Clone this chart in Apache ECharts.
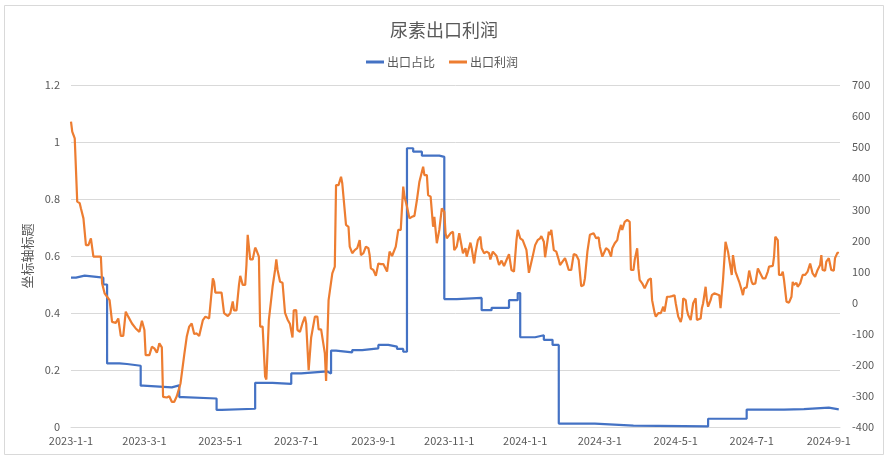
<!DOCTYPE html>
<html><head><meta charset="utf-8">
<script src="https://cdn.jsdelivr.net/npm/echarts@6/dist/echarts.min.js"></script>
<style>html,body{margin:0;padding:0;background:#fff}#c{width:888px;height:460px}</style>
</head><body><div id="c"></div>
<script>
// x values: day offsets from 2023-01-01
const shareDays = [0,4,11,26,29,39,45,56,58,81,87,90,117,121,148,162,177,185,206,209,213,226,234,247,255,262,267,270,275,282,296,300,310,330,338,352,359,361,373,380,387,392,421,452,512,543,573,589,609,617];
const shareVals = [0.524,0.531,0.524,0.50,0.223,0.221,0.215,0.145,0.139,0.146,0.105,0.100,0.060,0.064,0.155,0.151,0.188,0.195,0.188,0.268,0.262,0.270,0.276,0.288,0.282,0.274,0.264,0.978,0.966,0.952,0.948,0.449,0.453,0.410,0.418,0.445,0.470,0.315,0.322,0.306,0.288,0.012,0.005,0.002,0.029,0.061,0.063,0.068,0.062,0.062];

const profitDays = [0,1,3,4,5,7,8,9,10,12,14,16,17,18,24,25,27,29,31,33,36,38,40,42,44,46,49,52,55,57,59,60,63,65,67,69,70,71,73,74,77,79,81,83,85,88,91,93,95,97,99,101,103,106,108,111,114,115,116,121,123,126,128,130,131,133,135,136,138,140,141,142,144,146,148,149,151,152,154,156,157,159,160,162,164,165,166,167,168,170,172,174,175,176,178,179,181,182,184,186,188,189,191,193,194,196,198,199,201,204,205,207,208,210,212,213,215,217,218,221,223,224,226,228,230,232,233,235,237,239,240,241,243,245,247,249,251,252,254,256,258,259,261,263,265,267,268,270,272,274,276,278,280,283,284,286,287,289,291,292,294,296,298,300,301,302,305,307,308,310,312,314,315,317,318,321,322,324,325,327,329,330,332,334,336,337,339,342,344,346,348,350,352,354,356,358,359,361,363,366,368,369,371,373,375,377,378,380,381,382,384,385,386,388,390,392,393,395,397,398,400,402,404,406,408,410,412,413,415,417,418,420,422,424,425,427,428,430,432,434,435,437,439,440,442,443,445,447,449,450,452,453,455,456,457,459,461,462,464,466,467,469,470,472,474,476,477,479,481,483,485,486,488,490,491,492,494,495,496,498,499,500,502,503,504,506,507,508,510,511,512,514,515,517,518,521,522,524,526,528,529,531,532,534,535,537,539,540,541,543,544,545,547,548,550,552,554,556,558,560,561,564,565,566,568,569,571,572,573,575,577,579,580,581,583,584,586,588,590,592,594,596,598,600,602,603,604,606,607,609,611,613,614,616,617];
const profitVals = [582,550,528,522,325,320,303,303,271,185,185,207,212,148,148,62,30,19,8,-62,-65,-51,-107,-107,-29,-45,-67,-83,-94,-58,-88,-169,-169,-142,-147,-161,-147,-131,-144,-303,-305,-301,-319,-319,-301,-260,-168,-110,-77,-67,-101,-99,-107,-56,-45,-51,78,67,32,32,-34,-43,-34,4,-25,-25,57,86,57,57,121,218,139,139,177,169,148,-77,-77,-238,-247,-56,-56,51,105,139,105,100,67,64,-33,-54,-48,-69,-112,-25,-24,-88,-94,-67,-45,-67,-217,-112,-118,-45,-45,-86,-86,-163,-252,8,14,94,116,378,378,405,384,250,244,180,159,169,175,201,153,159,180,175,153,110,105,86,126,124,124,126,100,164,150,148,180,234,234,373,341,309,271,276,279,330,389,437,410,410,346,341,244,276,191,234,303,292,223,207,223,228,169,180,223,180,159,175,148,193,175,126,159,201,212,175,159,164,159,139,164,150,121,135,118,137,156,105,100,201,234,207,201,170,96,96,148,185,201,207,214,196,146,146,228,218,234,169,164,137,121,132,143,132,105,105,156,153,137,53,57,78,164,218,214,223,207,210,180,148,153,175,169,148,175,191,201,223,250,234,260,266,260,105,105,137,175,110,73,62,46,46,73,78,8,-33,-45,-34,-34,-13,-29,19,19,21,24,-2,-45,-62,-45,14,8,-24,-40,-56,-56,-2,14,-56,-62,-51,-18,-2,51,8,-13,8,24,30,30,24,-18,73,196,164,164,89,153,100,94,67,40,24,46,49,75,103,67,59,62,110,94,78,78,100,116,118,148,212,201,89,89,100,73,3,0,19,67,57,64,51,62,89,89,100,126,94,83,105,121,153,105,103,132,143,105,103,143,161,159];

const labelMonths = [[2023,0],[2023,2],[2023,4],[2023,6],[2023,8],[2023,10],[2024,0],[2024,2],[2024,4],[2024,6],[2024,8]];

function dayTs(d){ return Date.UTC(2023,0,1+d); }
const shareData = shareDays.map((d,i)=>[dayTs(d), shareVals[i]]);
const profitData = profitDays.map((d,i)=>[dayTs(d), profitVals[i]]);
const labelTs = labelMonths.map(([y,m])=>Date.UTC(y,m,1));

const FONT = '"Noto Sans CJK SC", "Noto Sans", sans-serif';
const chart = echarts.init(document.getElementById('c'), null, {renderer:'canvas'});
chart.setOption({
  animation:false,
  backgroundColor:'#fff',
  textStyle:{fontFamily:FONT},
  graphic:[{type:'rect', shape:{x:4.5,y:5.5,width:879,height:449}, style:{fill:'none', stroke:'#D9D9D9', lineWidth:1}, silent:true}],
  title:{text:'尿素出口利润', left:'center', top:16, textStyle:{fontSize:18, fontWeight:'normal', color:'#595959', fontFamily:FONT}},
  legend:{top:51, left:361, icon:'rect', itemWidth:18, itemHeight:3, itemGap:14,
    textStyle:{fontSize:12, color:'#595959', fontFamily:FONT, padding:[0,0,0,-2]},
    data:['出口占比','出口利润']},
  grid:{left:71, right:48, top:85, bottom:33, containLabel:false},
  xAxis:{type:'value', min:dayTs(0), max:dayTs(618), scale:true,
    axisLine:{show:true, onZero:false, lineStyle:{color:'#D9D9D9'}},
    axisTick:{show:false},
    splitLine:{show:false},
    axisLabel:{customValues:labelTs, color:'#595959', fontSize:11, margin:8, hideOverlap:false, showMinLabel:true, showMaxLabel:true,
      formatter:function(v){const d=new Date(v);return d.getUTCFullYear()+'-'+(d.getUTCMonth()+1)+'-'+d.getUTCDate();}}
  },
  yAxis:[
    {type:'value', min:0, max:1.2, interval:0.2, name:'坐标轴标题', nameLocation:'middle', nameGap:36, nameRotate:90,
      nameTextStyle:{fontSize:13, color:'#595959'},
      axisLine:{show:false}, axisTick:{show:false},
      axisLabel:{color:'#595959', fontSize:11, margin:11},
      splitLine:{lineStyle:{color:'#D9D9D9', width:1}}},
    {type:'value', min:-400, max:700, interval:100, position:'right',
      axisLine:{show:false}, axisTick:{show:false},
      axisLabel:{color:'#595959', fontSize:11, margin:12},
      splitLine:{show:false}}
  ],
  series:[
    {name:'出口占比', type:'line', yAxisIndex:0, step:'end', data:shareData, symbol:'none',
      itemStyle:{color:'#4472C4'}, lineStyle:{color:'#4472C4', width:2.2}},
    {name:'出口利润', type:'line', yAxisIndex:1, data:profitData, symbol:'none',
      itemStyle:{color:'#ED7D31'}, lineStyle:{color:'#ED7D31', width:2.2}}
  ]
});
</script></body></html>
